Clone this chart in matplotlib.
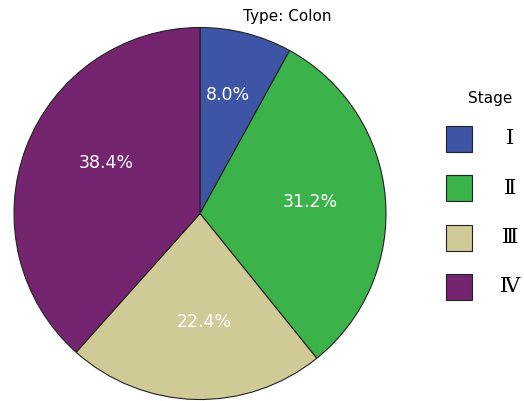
import matplotlib.pyplot as plt
from matplotlib.patches import Rectangle

# dane
stadia = ['Ⅰ', 'Ⅱ', 'Ⅲ', 'Ⅳ']
procenty = [8.0, 31.2, 22.4, 38.4]
kolory = ['#3e55a5', '#3cb24b', '#d0ca97', '#75256f']

# polozenie etykiet procentowych (jednostki promienia)
pozycje_etykiet = [(0.15, 0.637), (0.591, 0.062), (0.022, -0.583), (-0.505, 0.272)]

W, H = 524, 401
fig = plt.figure(figsize=(W / 100, H / 100), dpi=100)
ax = fig.add_axes([0, 0, 1, 1])

cx, cy, r = 200, 213.5, 186.0
ax.pie(procenty, colors=kolory, startangle=90, counterclock=False, radius=1,
       wedgeprops=dict(edgecolor='#222222', linewidth=0.8))
ax.set_xlim(-cx / r, (W - cx) / r)
ax.set_ylim(-(H - cy) / r, cy / r)
ax.set_aspect('auto')
ax.axis('off')

for p, (x, y) in zip(procenty, pozycje_etykiet):
    ax.text(x, y, f'{p:.1f}%', color='white', fontsize=12.5, ha='center', va='center')

fig.text(287 / W, 1 - 16 / H, 'Type: Colon', fontsize=11, ha='center', va='center')

# legenda
fig.text(490 / W, 1 - 99 / H, 'Stage', fontsize=11, ha='center', va='center')
for i, (s, k) in enumerate(zip(stadia, kolory)):
    py = 139 + i * 49.3
    fig.patches.append(Rectangle((446 / W, 1 - (py + 13) / H), 26 / W, 26 / H,
                                 transform=fig.transFigure, facecolor=k,
                                 edgecolor='#222222', linewidth=0.8))
    fig.text(510 / W, 1 - py / H, s, fontsize=15, family='DejaVu Serif',
             ha='center', va='center')

fig.savefig('out.png', dpi=100)
